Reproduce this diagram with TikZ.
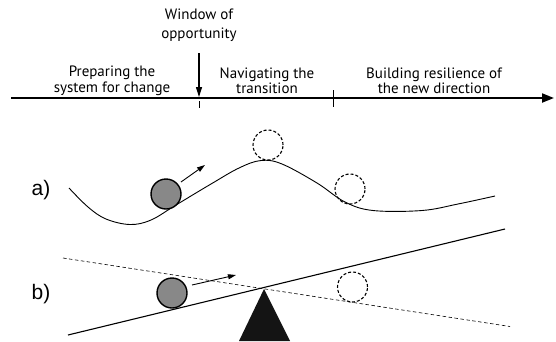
\documentclass[tikz,border=0pt]{standalone}
\usepackage{fontspec}
\setmainfont{PT Sans}
\newfontfamily\labfont{Liberation Sans}
\usetikzlibrary{arrows.meta}
\definecolor{ballgray}{RGB}{136,136,136}
\definecolor{wedge}{RGB}{20,20,20}
\begin{document}
\begin{tikzpicture}[x=1pt,y=-1pt,
  phase/.style={font=\fontsize{15}{15.5}\selectfont, align=center, inner sep=0pt},
  winlbl/.style={font=\fontsize{15}{18.5}\selectfont, align=center, inner sep=0pt},
  partlbl/.style={font=\labfont\fontsize{21}{22}\selectfont, inner sep=0pt},
  timeline/.style={line width=2pt, -{Triangle[length=12pt,width=9pt]}},
  winarrow/.style={line width=1.1pt, -{Triangle[length=10pt,width=6pt]}},
  motion/.style={line width=0.9pt, -{Triangle[length=8pt,width=5pt]}},
  ball/.style={circle, draw, line width=1.4pt, fill=ballgray, minimum size=30pt, inner sep=0pt},
  ghost/.style={circle, draw, line width=1.1pt, dash pattern=on 3pt off 2pt, minimum size=30pt, inner sep=0pt},
  landscape/.style={line width=0.9pt},
  beam/.style={line width=1.1pt},
  level/.style={line width=0.6pt, dash pattern=on 3.5pt off 2.5pt}]
\useasboundingbox (0,0) rectangle (556,341);

% timeline
\coordinate (tl0) at (11,98);
\coordinate (tl1) at (554,98);
\draw[timeline] (tl0) -- (tl1);
\coordinate (tk0) at (333,90);
\coordinate (tk1) at (333,107);
\draw[line width=1pt] (tk0) -- (tk1);

\node[winlbl] (win) at (199,25) {Window of\\opportunity};
\coordinate (wa0) at (199,53);
\coordinate (wa1) at (199,97);
\draw[winarrow] (wa0) -- (wa1);
\coordinate (wb0) at (199,101);
\coordinate (wb1) at (199,108);
\draw[line width=1pt] (wb0) -- (wb1);

\node[phase] (p1) at (112,81) {Preparing the\\system for change};
\node[phase] (p2) at (267,81) {Navigating the\\transition};
\node[phase] (p3) at (434,81) {Building resilience of\\the new direction};

% a)
\node[partlbl] (la) at (41,190) {a)};
\draw[landscape] plot[smooth, tension=0.6] coordinates {
  (69,188) (88,207) (106,219) (130,224.5) (151,220) (176,205)
  (211,184) (239,168) (261,160.5) (282,164) (317,183) (345,202)
  (373,210.5) (422,210.5) (458,204) (495,196)};
\node[ball] (ba) at (166,194) {};
\coordinate (ma0) at (181,182);
\coordinate (ma1) at (205,165);
\draw[motion] (ma0) -- (ma1);
\node[ghost] (ga1) at (268,145) {};
\node[ghost] (ga2) at (350,189) {};

% b)
\node[partlbl] (lb) at (41,294) {b)};
\coordinate (s0) at (68,335);
\coordinate (s1) at (505,229);
\coordinate (d0) at (63,258);
\coordinate (d1) at (510,326.5);
\draw[level] (d0) -- (d1);
\draw[beam] (s0) -- (s1);
\coordinate (apex) at (264,289);
\coordinate (bl) at (239,341);
\coordinate (br) at (290,341);
\fill[wedge] (apex) -- (br) -- (bl) -- cycle;
\node[ball] (bb) at (172,293) {};
\coordinate (mb0) at (192,285);
\coordinate (mb1) at (236,275);
\draw[motion] (mb0) -- (mb1);
\node[ghost] (gb) at (352.5,287) {};
\end{tikzpicture}
\end{document}
